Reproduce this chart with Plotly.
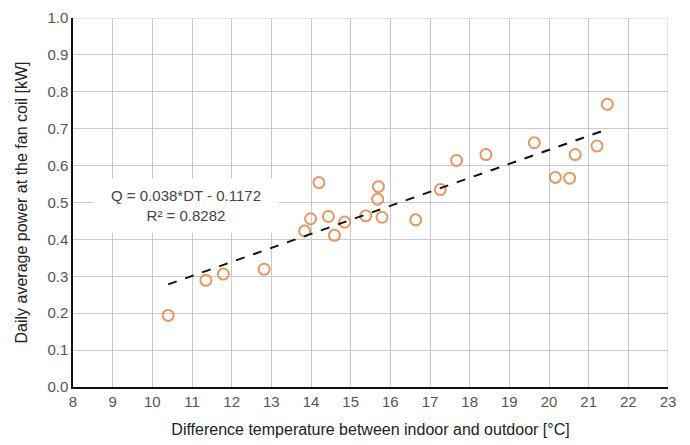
import plotly.graph_objects as go

dt = [10.40, 11.35, 11.79, 12.82, 13.84, 13.99, 14.20, 14.44, 14.59, 14.85, 15.38,
      15.68, 15.70, 15.79, 16.64, 17.26, 17.67, 18.41, 19.63, 20.16, 20.52, 20.66,
      21.21, 21.47]
power = [0.194, 0.289, 0.306, 0.319, 0.423, 0.456, 0.554, 0.462, 0.411, 0.447, 0.464,
         0.509, 0.543, 0.460, 0.453, 0.535, 0.614, 0.630, 0.662, 0.568, 0.566, 0.630,
         0.653, 0.766]

slope = 0.038
intercept = -0.1172
fit_x = [10.4, 21.5]
fit_y = [slope * x + intercept for x in fit_x]

eq_text = "Q = 0.038*DT - 0.1172<br>R² = 0.8282"

x_ticks = list(range(8, 24))
y_ticks = [i / 10 for i in range(0, 11)]

FONT = "Liberation Sans, Arial, sans-serif"

fig = go.Figure()
fig.add_trace(go.Scatter(
    x=dt, y=power, mode="markers",
    marker=dict(symbol="circle-open", size=11, color="#EA9660",
                line=dict(width=2, color="#EA9660")),
    showlegend=False, hoverinfo="skip"))
fig.add_trace(go.Scatter(
    x=fit_x, y=fit_y, mode="lines",
    line=dict(color="#111111", width=2, dash="dash"),
    showlegend=False, hoverinfo="skip"))

fig.add_annotation(
    x=10.85, y=0.493, xref="x", yref="y", text=eq_text, showarrow=False,
    font=dict(family=FONT, size=15, color="#444444"),
    bgcolor="white", borderpad=8, align="center", width=168)

fig.update_layout(
    width=690, height=445,
    margin=dict(l=73, r=22, t=9, b=56),
    paper_bgcolor="white", plot_bgcolor="white",
    font=dict(family=FONT, size=15, color="#555555"),
)
fig.update_xaxes(
    range=[8, 23], tickvals=x_ticks, ticktext=[str(v) for v in x_ticks],
    showgrid=True, gridcolor="#C8C9CE", gridwidth=1,
    showline=True, linecolor="#111111", linewidth=1.5, mirror=False,
    zeroline=False, ticks="", ticklen=0,
    title=dict(text="Difference temperature between indoor and outdoor [°C]",
               font=dict(size=16, color="#222222"), standoff=15),
    tickfont=dict(size=15, color="#555555"),
)
fig.update_yaxes(
    range=[0, 1.0], tickvals=y_ticks, tickformat=".1f",
    showgrid=True, gridcolor="#C8C9CE", gridwidth=1,
    showline=True, linecolor="#111111", linewidth=1.5,
    zeroline=False, ticks="", ticklen=0,
    title=dict(text="Daily average power at the fan coil [kW]",
               font=dict(size=16, color="#222222"), standoff=16),
    tickfont=dict(size=15, color="#555555"),
)
# right/top grid borders
fig.add_shape(type="line", xref="x", yref="paper", x0=23, x1=23, y0=0, y1=1,
              line=dict(color="#C8C9CE", width=1), layer="below")
fig.add_shape(type="line", xref="paper", yref="y", x0=0, x1=1, y0=1.0, y1=1.0,
              line=dict(color="#C8C9CE", width=1), layer="below")

fig.write_html("out.html")
